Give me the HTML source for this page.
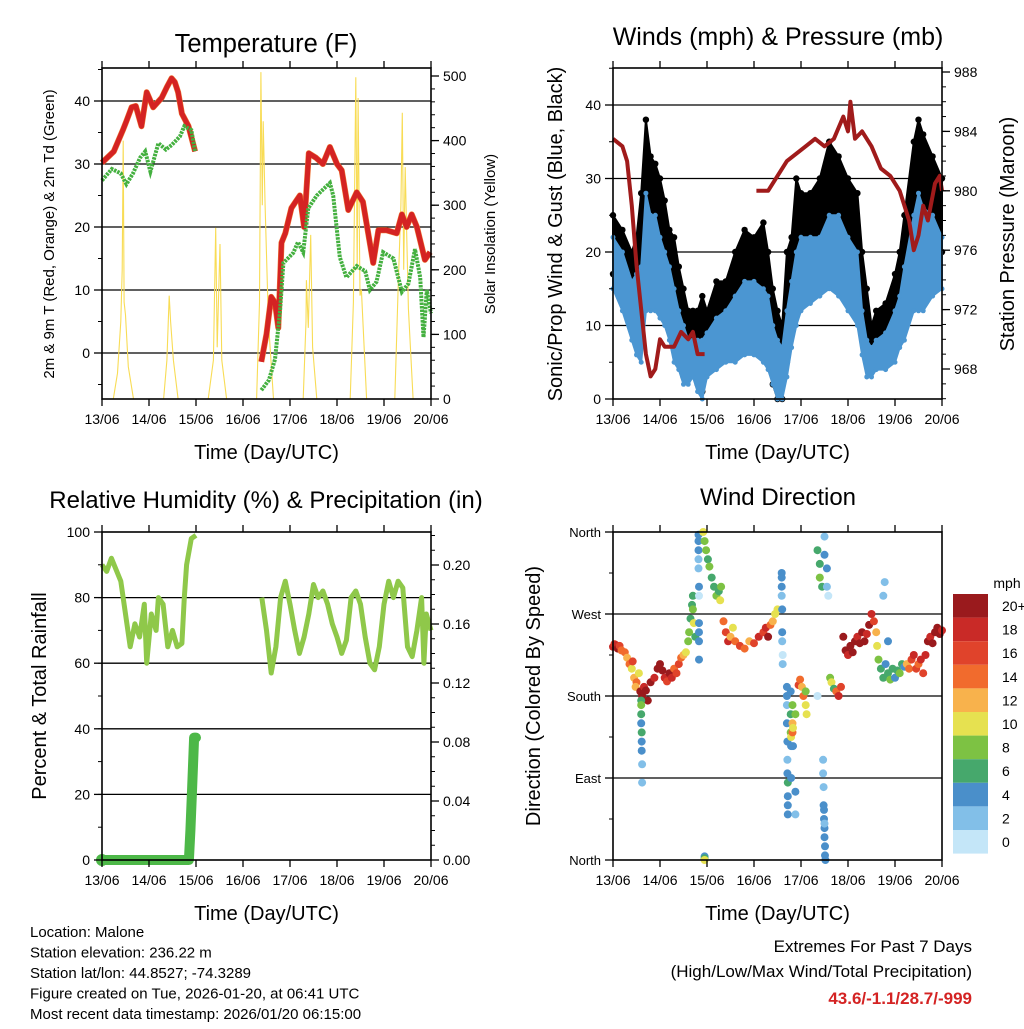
<!DOCTYPE html>
<html><head><meta charset="utf-8"><style>
html,body{margin:0;padding:0;background:#fff;}
svg text{font-family:"Liberation Sans",sans-serif;fill:#000;}
</style></head><body>
<svg id="c" width="1024" height="1024" viewBox="0 0 1024 1024" xmlns="http://www.w3.org/2000/svg"></svg>
<script>
// ---------- DATA ----------
const dayLabels=["13/06","14/06","15/06","16/06","17/06","18/06","19/06","20/06"];
const tempT=[0,0.25,0.45,0.52,0.63,0.72,0.84,0.95,1.09,1.27,1.38,1.48,1.55,1.62,1.70,1.84,1.98,null,3.39,3.5,3.6,3.68,3.75,3.82,3.9,4.03,4.12,4.21,4.3,4.4,4.55,4.7,4.85,5.0,5.1,5.24,5.42,5.55,5.77,5.88,6.05,6.27,6.38,6.48,6.59,6.7,6.87,6.98];
const tempV=[30.2,32,35.5,36.8,39,39.2,36,41.4,39,40.5,42.2,43.6,43,41.4,38,36,32,null,-1.4,3,8.9,8,4,17.5,19,23,24,25,20,31.7,31,30,32.7,30,29,22.7,25.5,24,14.3,19.5,19.5,19,22,20,22,20,14.8,16];
const dewT=[0,0.21,0.4,0.52,0.66,0.81,0.92,1.03,1.2,1.36,1.48,1.66,1.75,1.9,1.98,null,3.39,3.55,3.68,3.79,3.86,4.07,4.17,4.28,4.39,4.57,4.85,4.92,5.06,5.2,5.42,5.6,5.7,5.84,5.98,6.2,6.38,6.52,6.66,6.77,6.84,6.91,7.0];
const dewV=[27.4,29.2,28.5,26.8,28.5,31,32,28.8,33.3,32.3,33,34.4,36,35.4,32,null,-5.9,-4.3,-1,6.8,14.3,15.9,17.6,16,23,25,27,25,15.2,12,13.8,13,10,11.3,16,15,9.7,11,16.5,12,2.5,10,6.3];
const solarT=[0.24,0.33,0.40,0.43,0.45,0.47,0.50,0.56,0.67,null,1.31,1.38,1.43,1.46,1.52,1.62,null,2.26,2.37,2.42,2.45,2.51,2.55,2.65,null,3.29,3.35,3.38,3.41,3.43,3.47,3.54,3.65,null,4.28,4.34,4.35,4.39,4.44,4.48,4.57,null,5.28,5.35,5.40,5.43,5.45,5.49,5.52,5.63,null,6.23,6.30,6.36,6.39,6.42,6.45,6.52,6.62];
const solarV=[0,40,120,200,400,150,130,50,0,null,0,60,160,120,60,0,null,0,60,265,80,240,60,0,null,0,150,506,300,430,300,120,0,null,0,120,184,110,254,80,0,null,0,150,498,200,466,160,169,0,null,0,170,300,443,200,359,140,0];
const windT=[0,0.2,0.4,0.5,0.6,0.7,0.8,0.9,1.0,1.1,1.2,1.3,1.4,1.5,1.6,1.7,1.8,1.9,2.0,2.2,2.4,2.6,2.8,3.0,3.2,3.3,3.4,3.5,3.6,3.7,3.8,3.9,4.0,4.2,4.4,4.6,4.8,5.0,5.2,5.3,5.4,5.5,5.6,5.8,6.0,6.1,6.2,6.4,6.5,6.6,6.8,7.0];
const gustLo=[17,15,12,10,12,18,18,20,15,15,13,10,7,3,3,6,2,1,4,8,8,7,10,8,7,5,2,0,0,5,10,15,18,20,18,20,20,20,15,10,5,5,6,6,8,10,12,18,20,18,20,20];
const gustHi=[25,23,20,22,28,38,33,32,30,27,23,22,18,15,12,12,12,14,12,16,16,20,23,22,24,20,15,12,10,20,22,30,28,28,30,35,33,30,28,20,15,10,12,13,17,20,25,35,38,36,33,30];
const windLo=[15,12,8,6,5,12,12,12,11,10,8,5,4,2,2,3,1,0,3,4,5,5,6,6,5,4,2,0,0,3,7,10,12,13,14,15,14,12,10,6,3,3,4,4,5,7,8,12,12,12,14,15];
const windHi=[22,20,16,17,18,28,25,25,22,20,18,15,12,10,8,8,8,8,9,11,12,14,16,16,15,14,10,8,7,12,16,20,22,22,22,25,25,22,20,12,8,7,8,9,12,14,18,25,28,26,25,22];
const presT=[0,0.2,0.3,0.4,0.5,0.6,0.7,0.8,0.9,1.0,1.1,1.3,1.45,1.6,1.7,1.8,1.95,null,3.05,3.3,3.5,3.7,3.9,4.1,4.3,4.5,4.7,4.9,5.0,5.05,5.15,5.3,5.5,5.7,5.9,6.1,6.3,6.4,6.5,6.6,6.7,6.85,6.95,7.0];
const presV=[983.5,983,982,979,975,972,969,967.5,968,970,969.5,969.5,970.5,970,970.5,969,969,null,980,980,981,982,982.5,983,983.5,983,983.5,985,984,986,983.5,984,983,981.5,981,980,978,976,977,979,978,980.5,981,980];
const rhT=[0,0.1,0.2,0.4,0.5,0.6,0.7,0.8,0.9,0.95,1.05,1.15,1.2,1.3,1.4,1.5,1.6,1.7,1.75,1.8,1.9,2.0,null,3.4,3.5,3.6,3.7,3.8,3.9,4.0,4.1,4.2,4.3,4.4,4.5,4.6,4.7,4.8,4.9,5.0,5.1,5.2,5.3,5.4,5.5,5.6,5.7,5.8,5.9,6.0,6.1,6.2,6.3,6.4,6.5,6.6,6.7,6.8,6.85,6.9,7.0];
const rhV=[90,88,92,85,75,65,72,68,78,60,75,70,80,78,65,70,65,66,80,90,98,99,null,80,70,57,65,80,85,78,70,63,68,75,84,80,82,78,72,68,63,67,80,82,78,68,60,58,65,78,85,80,85,83,65,62,70,80,60,75,70];
const precT=[0,0.5,1.0,1.5,1.85,1.88,1.92,1.96,2.0];
const precV=[0,0,0,0,0,0.02,0.05,0.083,0.083];
const dirT=[0,0.03,0.06,0.1,0.14,0.18,0.25,0.3,0.35,0.4,0.45,0.5,0.55,0.42,0.48,0.58,0.62,0.66,0.7,0.74,0.6,0.6,0.6,0.6,0.61,0.61,0.61,0.62,0.62,0.8,0.88,0.95,1.0,1.05,1.1,1.15,1.2,1.25,1.3,1.35,1.4,1.45,1.5,1.55,1.6,1.62,1.65,1.68,1.7,1.72,1.75,1.7,1.82,1.82,1.82,1.82,1.82,1.83,1.83,1.83,1.83,1.83,1.83,1.92,1.95,1.98,2.02,2.05,2.1,2.15,2.2,2.25,2.3,2.28,1.95,1.95,1.95,2.35,2.4,2.45,2.5,2.55,2.6,2.7,2.8,2.9,3.0,3.1,3.2,3.25,3.3,3.35,3.4,3.45,3.5,3.59,3.59,3.59,3.59,3.6,3.6,3.6,3.61,3.61,3.7,3.7,3.7,3.7,3.71,3.71,3.71,3.72,3.72,3.72,3.72,3.78,3.78,3.78,3.79,3.79,3.79,3.82,3.82,3.82,3.83,3.83,3.88,3.88,3.88,3.95,3.98,4.02,4.05,4.1,4.12,4.1,4.35,4.4,4.4,4.45,4.5,4.5,4.55,4.55,4.58,4.35,4.47,4.47,4.48,4.48,4.49,4.49,4.5,4.5,4.51,4.51,4.52,4.5,4.62,4.65,4.7,4.75,4.8,4.85,4.9,4.95,5.0,5.05,5.1,5.15,5.2,5.25,5.3,5.35,5.4,5.45,5.5,5.55,5.6,5.62,5.65,5.7,5.75,5.8,5.85,5.9,5.95,6.0,6.05,6.1,6.15,6.2,5.75,5.78,5.85,6.25,6.3,6.35,6.4,6.45,6.5,6.55,6.6,6.65,6.7,6.75,6.8,6.85,6.9,6.95,7.0];
const dirV=[234,237,236,232,235,230,228,222,215,210,200,195,205,218,190,185,180,190,186,175,175,170,160,150,140,130,120,105,85,195,200,210,215,208,200,196,205,200,210,205,215,222,225,228,240,250,265,280,275,260,245,290,357,350,340,330,320,300,290,260,250,240,220,360,350,340,330,322,310,300,290,295,300,285,4,2,0,262,250,240,245,255,240,235,232,240,238,245,250,255,245,258,262,270,275,315,310,300,290,275,250,240,225,215,190,180,170,150,130,110,95,85,70,60,50,185,160,140,135,125,90,170,150,140,145,125,75,50,160,192,198,190,180,170,160,185,340,325,310,300,355,335,320,300,290,180,110,95,80,60,55,45,35,25,15,5,0,40,200,195,188,185,180,190,245,230,225,235,228,240,245,238,250,240,248,258,270,262,250,235,220,210,200,215,205,198,210,200,208,205,215,212,290,305,240,215,210,220,225,210,215,220,205,225,240,245,238,250,255,248,252];
const dirS=[18,16,18,20,16,14,14,12,14,10,12,14,10,16,12,20,20,18,20,20,6,8,6,4,6,4,4,2,2,20,18,20,20,20,18,16,20,18,14,16,16,14,12,10,8,8,6,6,8,10,6,6,4,4,4,2,2,4,0,4,4,4,4,10,8,8,6,8,6,6,8,6,8,10,4,6,10,14,16,18,12,10,14,16,14,12,16,18,16,18,20,14,12,10,10,4,4,4,2,4,4,2,0,2,4,4,2,4,4,2,4,6,4,4,4,4,6,8,10,4,4,8,12,14,10,4,4,2,8,16,14,12,14,10,10,8,6,6,8,6,2,4,4,2,0,0,2,2,2,4,4,4,4,4,4,4,4,2,8,10,6,14,18,16,20,20,18,20,20,20,18,20,20,20,18,20,18,16,12,10,8,6,6,4,6,8,6,4,6,8,6,4,2,2,4,12,14,16,18,16,14,18,16,18,20,18,20,20,20,20,18];
const speedBins=["0","2","4","6","8","10","12","14","16","18","20+"];
const speedColors=["#c4e6f8","#82bfe8","#4a8fca","#46a86c","#7dc243","#e6e150","#f8b24c","#f16b2d","#e0432b","#c92a27","#9a1a1d"];

// ---------- HELPERS ----------
const svg=document.getElementById('c');
const NS="http://www.w3.org/2000/svg";
function mk(tag,attrs,parent){const e=document.createElementNS(NS,tag);for(const k in attrs)e.setAttribute(k,attrs[k]);(parent||svg).appendChild(e);return e;}
function txt(x,y,s,size,anchor,rot,parent){const a={x:x,y:y,'font-size':size,'text-anchor':anchor||'middle'};if(rot)a.transform='rotate('+rot+' '+x+' '+y+')';const t=mk('text',a,parent);t.textContent=s;return t;}
function lin(d0,d1,p0,p1){return v=>p0+(v-d0)*(p1-p0)/(d1-d0);}
function pathFrom(T,V,xf,yf){let d='',pen=false;for(let i=0;i<T.length;i++){if(T[i]===null||V[i]===null){pen=false;continue;}d+=(pen?'L':'M')+xf(T[i]).toFixed(1)+' '+yf(V[i]).toFixed(1);pen=true;}return d;}
function panel(name){const g=mk('g',{});
  
  
  return g;}
function frame(g,L,R,T,B){const r=mk('rect',{x:L,y:T,width:R-L,height:B-T,fill:'none',stroke:'#000','stroke-width':1.6},g);}
function xAxis(g,L,R,T,B){
  const xf=lin(0,7,L,R);
  const ax=mk('g',{},g);
  for(let i=0;i<dayLabels.length;i++){const x=xf(i);
    mk('line',{x1:x,x2:x,y1:B,y2:B+7,stroke:'#000','stroke-width':1.3},ax);
    mk('line',{x1:x,x2:x,y1:T,y2:T-7,stroke:'#000','stroke-width':1.3},ax);
    const t=txt(x,B+25,dayLabels[i],14,'middle',0,ax);}
  const tt=txt((L+R)/2,B+60,'Time (Day/UTC)',20,'middle',0,ax);
  return xf;
}
function yTicks(g,side,x,yf,ticks,labels,minor,size,name){
  const ax=mk('g',{},g);
  const s=side==='left'?-1:1;
  minor.forEach(v=>mk('line',{x1:x,x2:x+s*4,y1:yf(v),y2:yf(v),stroke:'#000','stroke-width':1},ax));
  ticks.forEach((v,i)=>{mk('line',{x1:x,x2:x+s*8,y1:yf(v),y2:yf(v),stroke:'#000','stroke-width':1.3},ax);
    const t=txt(x+s*12,yf(v)+5,labels[i],size||14,side==='left'?'end':'start',0,ax);});
}
function grid(g,L,R,yf,vals){vals.forEach(v=>{const l=mk('line',{x1:L,x2:R,y1:yf(v),y2:yf(v),stroke:'#000','stroke-width':1.3},g);});}
function range(a,b,s){const r=[];for(let v=a;v<=b+1e-9;v+=s)r.push(+v.toFixed(4));return r;}

// ---------- PANEL 1: TEMPERATURE ----------
(function(){
  const L=102,R=431,T=68,B=399;const g=panel('temperature-panel');
  const yf=lin(0,40,353,101), ys=lin(0,500,399,76), xf=lin(0,7,L,R);
  grid(g,L,R,yf,[0,10,20,30,40]);
  const sp=mk('path',{d:pathFrom(solarT,solarV,xf,ys),fill:'none',stroke:'#f8dc55','stroke-width':1.1},g);
  
  const rp=mk('path',{d:pathFrom(tempT,tempV,xf,yf),fill:'none',stroke:'#f07a35','stroke-width':6,'stroke-linejoin':'round'},g);
  
  const rp2=mk('path',{d:pathFrom(tempT,tempV,xf,yf),fill:'none',stroke:'#d42323','stroke-width':5,'stroke-linejoin':'round'},g);
  
  const dp=mk('path',{d:pathFrom(dewT,dewV,xf,yf),fill:'none',stroke:'#44b03f','stroke-width':4,'stroke-dasharray':'2.5 1'},g);
  
  frame(g,L,R,T,B);xAxis(g,L,R,T,B);
  yTicks(g,'left',L,yf,[0,10,20,30,40],['0','10','20','30','40'],range(-5,45,5),14,'left-y-axis');
  yTicks(g,'right',R,ys,[0,100,200,300,400,500],['0','100','200','300','400','500'],range(0,500,20),14,'right-y-axis');
  let t=txt(266,52,'Temperature (F)',25.5,'middle',0,g);
  t=txt(54,234,'2m & 9m T (Red, Orange) & 2m Td (Green)',15,'middle',-90,g);
  t=txt(495,234,'Solar Insolation (Yellow)',15,'middle',-90,g);
})();

// ---------- PANEL 2: WINDS ----------
(function(){
  const L=613,R=942,T=68,B=399;const g=panel('winds-panel');
  const yf=lin(0,40,399,105), yp=lin(968,988,369,72), xf=lin(0,7,L,R);
  grid(g,L,R,yf,[10,20,30,40]);
  function band(lo,hi,col,name,r){
    let d='M';for(let i=0;i<windT.length;i++)d+=(i?'L':'')+xf(windT[i]).toFixed(1)+' '+yf(hi[i]).toFixed(1);
    for(let i=windT.length-1;i>=0;i--)d+='L'+xf(windT[i]).toFixed(1)+' '+yf(lo[i]).toFixed(1);
    const p=mk('path',{d:d+'Z',fill:col,stroke:col,'stroke-width':2,'stroke-linejoin':'round'},g);
    
    for(let i=0;i<windT.length;i++){
      const c1=mk('circle',{cx:xf(windT[i]),cy:yf(hi[i]),r:r,fill:col},g);
      
      const c2=mk('circle',{cx:xf(windT[i]),cy:yf(lo[i]),r:r,fill:col},g);
      
    }
  }
  band(gustLo,gustHi,'#000','gust-band',3.2);
  band(windLo,windHi,'#4b96d2','wind-band',2.5);
  const pp=mk('path',{d:pathFrom(presT,presV,xf,yp),fill:'none',stroke:'#a01b1b','stroke-width':4,'stroke-linejoin':'round'},g);
  
  frame(g,L,R,T,B);xAxis(g,L,R,T,B);
  yTicks(g,'left',L,yf,[0,10,20,30,40],['0','10','20','30','40'],range(0,45,5),14,'left-y-axis');
  yTicks(g,'right',R,yp,[968,972,976,980,984,988],['968','972','976','980','984','988'],range(966,988,1),14,'right-y-axis');
  let t=txt(778,45,'Winds (mph) & Pressure (mb)',25,'middle',0,g);
  t=txt(562,234,'Sonic/Prop Wind & Gust (Blue, Black)',20,'middle',-90,g);
  t=txt(1014,234,'Station Pressure (Maroon)',20,'middle',-90,g);
})();

// ---------- PANEL 3: RH & PRECIP ----------
(function(){
  const L=102,R=431,T=532,B=860;const g=panel('humidity-precip-panel');
  const yf=lin(0,100,860,532), yr=lin(0,0.2,860,565), xf=lin(0,7,L,R);
  grid(g,L,R,yf,[20,40,60,80]);
  const rp=mk('path',{d:pathFrom(rhT,rhV,xf,yf),fill:'none',stroke:'#8fc84a','stroke-width':5,'stroke-linejoin':'round'},g);
  
  const pp=mk('path',{d:pathFrom(precT,precV,xf,yr),fill:'none',stroke:'#4db848','stroke-width':10,'stroke-linejoin':'round','stroke-linecap':'round'},g);
  
  const c=mk('circle',{cx:xf(precT[0]),cy:yr(precV[0]),r:6,fill:'#4db848'},g);
  frame(g,L,R,T,B);xAxis(g,L,R,T,B);
  yTicks(g,'left',L,yf,[0,20,40,60,80,100],['0','20','40','60','80','100'],range(0,100,10),14,'left-y-axis');
  yTicks(g,'right',R,yr,[0,0.04,0.08,0.12,0.16,0.2],['0.00','0.04','0.08','0.12','0.16','0.20'],range(0,0.22,0.01),14,'right-y-axis');
  let t=txt(266,508,'Relative Humidity (%) & Precipitation (in)',24,'middle',0,g);
  t=txt(46,696,'Percent & Total Rainfall',20,'middle',-90,g);
})();

// ---------- PANEL 4: WIND DIRECTION ----------
(function(){
  const L=613,R=942,T=532,B=860;const g=panel('wind-direction-panel');
  const yf=lin(0,360,860,532), xf=lin(0,7,L,R);
  grid(g,L,R,yf,[90,180,270]);
  for(let i=0;i<dirT.length;i++){
    const bin=Math.min(10,Math.max(0,Math.round(dirS[i]/2)));
    const c=mk('circle',{cx:xf(dirT[i]).toFixed(1),cy:yf(dirV[i]).toFixed(1),r:4,fill:speedColors[bin]},g);
    
    
  }
  frame(g,L,R,T,B);xAxis(g,L,R,T,B);
  yTicks(g,'left',L,yf,[0,90,180,270,360],['North','East','South','West','North'],range(0,360,45),13,'left-y-axis');
  let t=txt(778,505,'Wind Direction',24,'middle',0,g);
  t=txt(540,696,'Direction (Colored By Speed)',20,'middle',-90,g);
  const lg=mk('g',{},g);
  t=txt(1007,588,'mph',14,'middle',0,lg);
  const top=594,h=23.6;
  for(let i=0;i<speedBins.length;i++){const k=speedBins.length-1-i;
    const r=mk('rect',{x:953,y:top+i*h,width:35,height:h,fill:speedColors[k]},lg);
    const l=txt(1002,top+i*h+17,speedBins[k],14,'start',0,lg);}
})();

// ---------- FOOTER ----------
(function(){
  const g=mk('g',{});
  ['Location: Malone','Station elevation: 236.22 m','Station lat/lon: 44.8527; -74.3289','Figure created on Tue, 2026-01-20, at 06:41 UTC','Most recent data timestamp: 2026/01/20 06:15:00'].forEach((s,i)=>{
    const t=txt(30,937+i*20.5,s,15,'start',0,g);});
  const e=mk('g',{});
  let t=txt(972,952,'Extremes For Past 7 Days',17,'end',0,e);
  t=txt(972,977,'(High/Low/Max Wind/Total Precipitation)',17,'end',0,e);
  t=txt(972,1004,'43.6/-1.1/28.7/-999',17,'end',0,e);
  t.setAttribute('font-weight','bold');t.style.fill='#d42323';
})();
</script>
</body></html>
